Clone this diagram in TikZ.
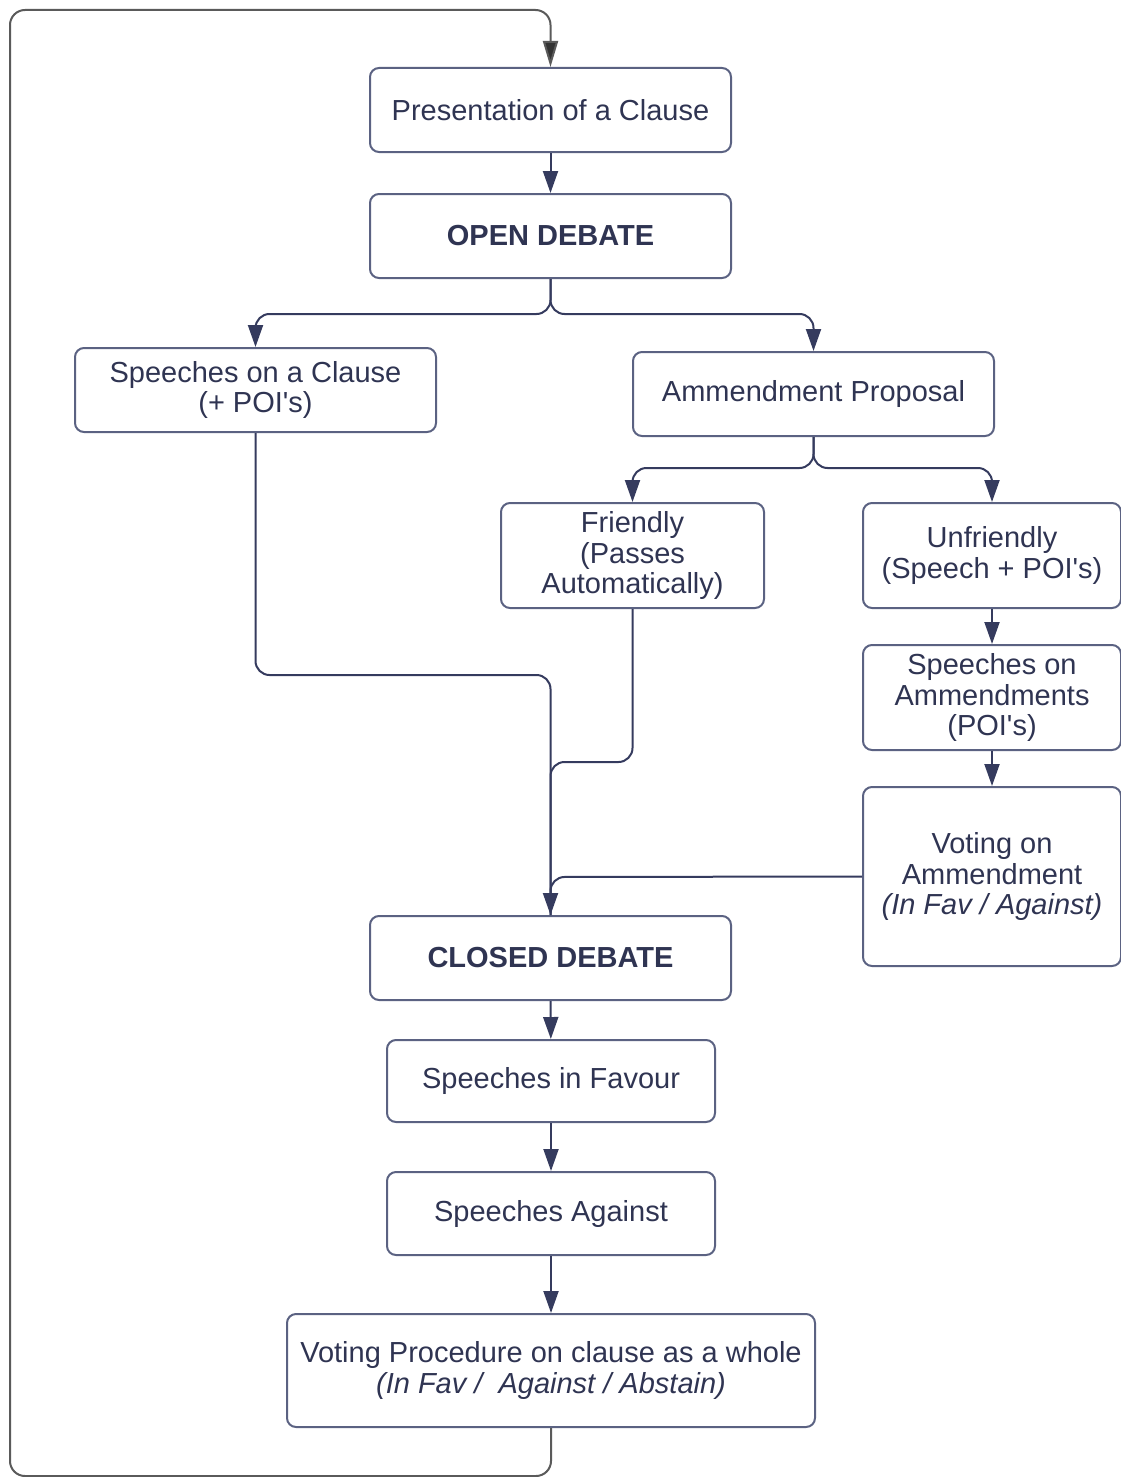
\documentclass[tikz,border=0pt]{standalone}
\usepackage{fontspec}
\setmainfont[Ligatures=TeXOff]{Liberation Sans}
\usetikzlibrary{arrows.meta}
\definecolor{boxc}{HTML}{5B6282}
\definecolor{txt}{HTML}{2F3452}
\definecolor{arrc}{HTML}{353B5E}
\definecolor{loopc}{HTML}{5A5A5A}
\newcommand{\fsz}{\fontsize{29}{30.5}\selectfont}
\tikzset{
  box/.style={draw=boxc, line width=2pt, rounded corners=9pt, text=txt, align=center, font=\fsz, inner sep=0pt},
  conn/.style={draw=arrc, line width=2pt, rounded corners=14pt},
  arr/.style={conn, -{Triangle[length=22pt,width=15pt]}},
  loopline/.style={draw=loopc, line width=2pt, rounded corners=15pt, -{Triangle[length=26pt,width=15pt,fill=black!80]}}
}
\begin{document}
\begin{tikzpicture}[x=1pt,y=-1pt]
\useasboundingbox (0,0) rectangle (1121,1477);
\node[box, minimum width=361pt, minimum height=84pt] (pres) at (550.5,110) {Presentation of a Clause};
\node[box, minimum width=361pt, minimum height=84pt] (open) at (550.5,236) {\bfseries OPEN DEBATE};
\node[box, minimum width=361pt, minimum height=84pt] (sclause) at (255.5,390) {Speeches on a Clause\\(+ POI's)};
\node[box, minimum width=361pt, minimum height=84pt] (amend) at (813.5,394) {Ammendment Proposal};
\node[box, minimum width=263pt, minimum height=105pt] (friendly) at (632.5,555.5) {Friendly\\(Passes\\Automatically)};
\node[box, minimum width=258pt, minimum height=105pt] (unfr) at (992,555.5) {Unfriendly\\(Speech + POI's)};
\node[box, minimum width=258pt, minimum height=105pt] (sam) at (992,697.5) {Speeches on\\Ammendments\\(POI's)};
\node[box, minimum width=258pt, minimum height=179pt] (vam) at (992,876.5) {Voting on\\Ammendment\\\itshape (In Fav / Against)};
\node[box, minimum width=361pt, minimum height=84pt] (closed) at (550.5,958) {\bfseries CLOSED DEBATE};
\node[box, minimum width=328pt, minimum height=82pt] (favour) at (551,1081) {Speeches in Favour};
\node[box, minimum width=328pt, minimum height=83pt] (against) at (551,1213.5) {Speeches Against};
\node[box, minimum width=528pt, minimum height=113pt] (vproc) at (551,1370.5) {Voting Procedure on clause as a whole\\\itshape (In Fav /\ \ Against / Abstain)};

\coordinate (f1) at (550.5,314);
\coordinate (f2) at (813.5,468);
\coordinate (m1) at (550.5,675);
\coordinate (m2) at (550.5,762);
\coordinate (m3) at (550.5,877);
\coordinate (lb) at (10,1476);
\coordinate (lt) at (10,10);

\draw[loopline] (vproc.south) |- (lb) -- (lt) -| (pres.north);
\draw[arr] (pres) -- (open);
\draw[arr] (open.south) -- (f1) -| (sclause.north);
\draw[arr] (open.south) -- (f1) -| (amend.north);
\draw[arr] (amend.south) -- (f2) -| (friendly.north);
\draw[arr] (amend.south) -- (f2) -| (unfr.north);
\draw[arr] (unfr) -- (sam);
\draw[arr] (sam) -- (vam);
\draw[conn] (friendly.south) |- (m2) -- (closed.north);
\draw[conn] (vam.west) -- (m3) -- (closed.north);
\draw[arr] (sclause.south) |- (m1) -- (closed.north);
\draw[arr] (closed) -- (favour);
\draw[arr] (favour) -- (against);
\draw[arr] (against) -- (vproc);
\end{tikzpicture}
\end{document}
